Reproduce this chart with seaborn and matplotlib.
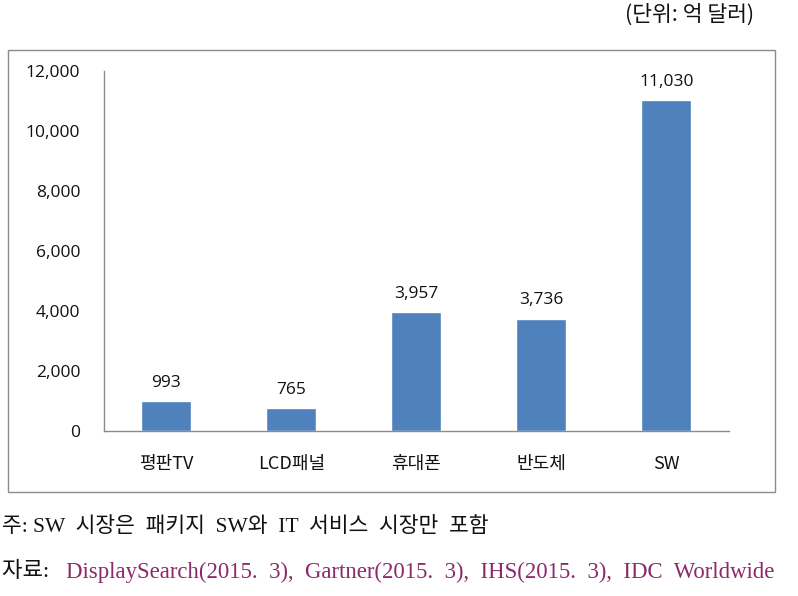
import matplotlib
matplotlib.use("Agg")
import matplotlib.pyplot as plt
import seaborn as sns
import pandas as pd
from matplotlib.patches import Rectangle

categories = ["평판TV", "LCD패널", "휴대폰", "반도체", "SW"]
values = [993, 765, 3957, 3736, 11030]
yticks = [0, 2000, 4000, 6000, 8000, 10000, 12000]

sns.set_theme(style="white")
plt.rcParams['font.family'] = ['Noto Sans CJK KR', 'DejaVu Sans']

df = pd.DataFrame({"category": categories, "value": values})

fig = plt.figure(figsize=(7.98, 5.96), dpi=100)
# chart frame
fig.patches.append(Rectangle((0.010, 0.1745), 0.961, 0.7416, transform=fig.transFigure,
                             fill=False, edgecolor="#8c8c8c", linewidth=1.0))
ax = fig.add_axes([0.130, 0.2768, 0.7835, 0.604])
sns.barplot(data=df, x="category", y="value", color="#4F81BD", width=0.4,
            saturation=1, ax=ax)
ax.set_ylim(0, 12000)
ax.set_xlim(-0.5, len(categories) - 0.5)
ax.set_yticks(yticks)
ax.set_yticklabels([f"{v:,}" for v in yticks], fontsize=12.5,
                   family=['Open Sans', 'DejaVu Sans'], color="#111111")
ax.set_xlabel("")
ax.set_ylabel("")
for s in ["top", "right"]:
    ax.spines[s].set_visible(False)
for s in ["left", "bottom"]:
    ax.spines[s].set_color("#8c8c8c")
    ax.spines[s].set_linewidth(1.0)
ax.tick_params(axis="y", direction="out", length=5, color="#8c8c8c", width=1, pad=12)
ax.set_xticks(range(len(categories)))
ax.set_xticklabels(categories, fontsize=13, color="#111111")
ax.tick_params(axis="x", length=0, pad=17)
# minor ticks between categories
ax.set_xticks([i + 0.5 for i in range(-1, len(categories))], minor=True)
ax.tick_params(axis="x", which="minor", direction="out", length=5, color="#8c8c8c", width=1)
for i, v in enumerate(values):
    ax.text(i, v + 350, f"{v:,}", ha="center", va="bottom", fontsize=12.5,
            family=['Open Sans', 'DejaVu Sans'], color="#111111")

fig.text(0.945, 0.975, "(단위: 억 달러)", ha="right", va="center", fontsize=15.5, color="#111111")
fig.text(0.003, 0.115, "주: SW  시장은  패키지  SW와  IT  서비스  시장만  포함", ha="left", va="center",
         fontsize=15.5, family=['Liberation Serif', 'Noto Sans CJK KR'], color="#111111")
fig.text(0.003, 0.04, "자료: ", ha="left", va="center", fontsize=16,
         family=['Liberation Serif', 'Noto Sans CJK KR'], color="#111111")
fig.text(0.083, 0.04, "DisplaySearch(2015.  3),  Gartner(2015.  3),  IHS(2015.  3),  IDC  Worldwide",
         ha="left", va="center", fontsize=16.4, family=['Liberation Serif', 'Noto Sans CJK KR'],
         color="#8B2A6B")

fig.savefig("out.png", dpi=100)
